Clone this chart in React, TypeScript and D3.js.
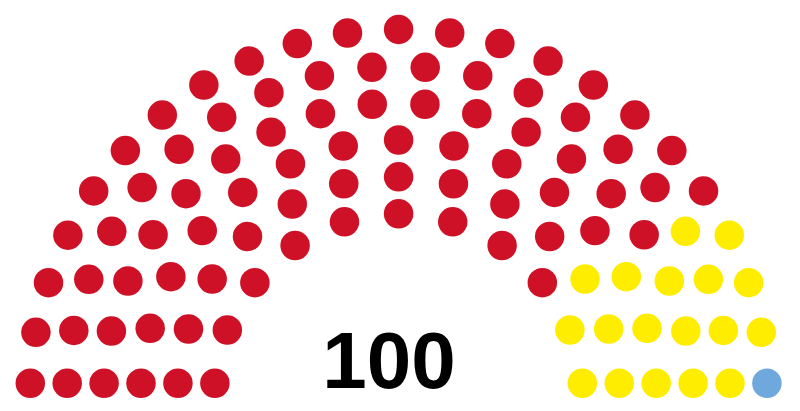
import { useMemo } from 'react'
import * as d3 from 'd3'

// Parties, in seating order from left to right
const partyNames = ['Party A', 'Party B', 'Party C']
const partySeats = [81, 18, 1]
const partyColors = ['#CE1126', '#FFED00', '#6FA8DC']

// Cumulative seat capacity per number of rows (parliament diagram layout)
const rowTotals = [3, 15, 33, 61, 95, 138, 189, 247, 313, 388, 469, 559, 657, 762, 876, 997]

const width = 800
const height = 411

interface Seat {
  angle: number
  x: number
  y: number
  color: string
  party: string
}

function layoutSeats(): { seats: Seat[]; radius: number; outer: number } {
  const total = d3.sum(partySeats)
  const rows = rowTotals.findIndex(t => t >= total) + 1
  const radius = 0.4 / rows
  const pos: { angle: number; x: number; y: number }[] = []

  const place = (J: number, R: number) => {
    if (J === 1) {
      pos.push({ angle: Math.PI / 2, x: 0, y: R })
      return
    }
    for (let j = 0; j < J; j++) {
      const a0 = Math.sin(radius / R)
      const angle = (j * (Math.PI - 2 * a0)) / (J - 1) + a0
      pos.push({ angle, x: R * Math.cos(angle), y: R * Math.sin(angle) })
    }
  }

  for (let i = 1; i < rows; i++) {
    const J = Math.floor(
      (total / rowTotals[rows - 1]) * Math.PI / (2 * Math.asin(2 / (3 * rows + 4 * i - 2)))
    )
    place(J, (3 * rows + 4 * i - 2) / (4 * rows))
  }
  const outer = (3 * rows + 4 * rows - 2) / (4 * rows)
  place(total - pos.length, outer)

  // left to right by angle
  pos.sort((a, b) => b.angle - a.angle || b.x - a.x)

  const seats: Seat[] = []
  let k = 0
  partySeats.forEach((n, p) => {
    for (let s = 0; s < n; s++) {
      seats.push({ ...pos[k++], color: partyColors[p], party: partyNames[p] })
    }
  })
  return { seats, radius, outer }
}

export default function App() {
  const { seats, radius, outer } = useMemo(layoutSeats, [])

  // map diagram units to pixels
  const cx = 398.6
  const cy = 398
  const px = 368.6 / outer
  const xScale = d3.scaleLinear().domain([0, 1]).range([cx, cx + px])
  const yScale = d3.scaleLinear().domain([0, 1]).range([cy, cy - px])
  const r = radius * px

  return (
    <div style={{ position: 'absolute', left: 0, top: 0 }}>
      <svg width={width} height={height} style={{ display: 'block', background: '#fff' }}>
        <g>
          {seats.map((d, i) => (
            <circle
              key={i}
              cx={xScale(d.x)}
              cy={yScale(d.y)}
              r={r}
              fill={d.color}
            >
              <title>{d.party}</title>
            </circle>
          ))}
        </g>
        <text
          x={389}
          y={388}
          textAnchor="middle"
          style={{
            fontFamily: '"Liberation Sans", Arial, sans-serif',
            fontWeight: 'bold',
            fontSize: '80px',
            fill: '#000',
          }}
        >
          {d3.sum(partySeats)}
        </text>
      </svg>
    </div>
  )
}
